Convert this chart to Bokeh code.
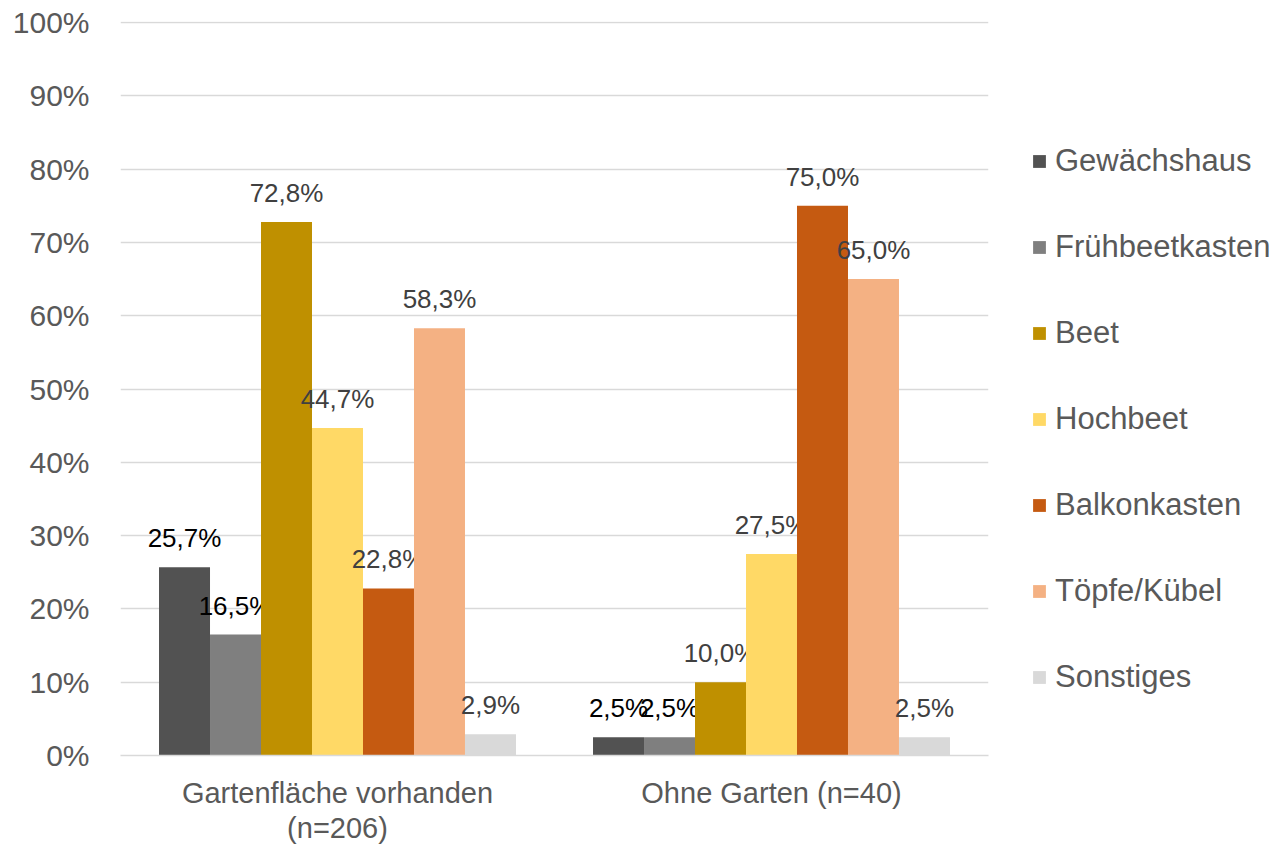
from bokeh.plotting import figure
from bokeh.models import ColumnDataSource, FactorRange, Range1d, Legend, LegendItem, FixedTicker, PrintfTickFormatter
from bokeh.transform import dodge
from bokeh.core.properties import value
from bokeh.embed import file_html
from bokeh.resources import INLINE

categories = ["Gartenfläche vorhanden\n(n=206)", "Ohne Garten (n=40)"]
series = ["Gewächshaus", "Frühbeetkasten", "Beet", "Hochbeet", "Balkonkasten", "Töpfe/Kübel", "Sonstiges"]
colors = ["#525252", "#7f7f7f", "#bf9000", "#ffd966", "#c55a11", "#f4b183", "#d9d9d9"]
label_colors = ["#000000", "#000000", "#404040", "#404040", "#404040", "#404040", "#404040"]
garten = [25.7, 16.5, 72.8, 44.7, 22.8, 58.3, 2.9]
ohne = [2.5, 2.5, 10.0, 27.5, 75.0, 65.0, 2.5]
y_ticks = [0, 10, 20, 30, 40, 50, 60, 70, 80, 90, 100]

FONT = "Liberation Sans"

p = figure(frame_width=868, frame_height=734, x_range=FactorRange(*categories), y_range=Range1d(0, 100.15),
           output_backend="svg", toolbar_location=None,
           min_border_left=120, min_border_right=0, min_border_top=21, min_border_bottom=88)
p.outline_line_color = None
p.background_fill_color = "white"

bw = 0.1175
items = []
for i, name in enumerate(series):
    vals = [garten[i], ohne[i]]
    src = ColumnDataSource(dict(cat=categories, v=vals,
                                lbl=[f"{v:.1f}%".replace(".", ",") for v in vals]))
    off = (i - 3) * bw
    r = p.vbar(x=dodge("cat", off, range=p.x_range), top="v", width=bw, source=src,
               fill_color=colors[i], line_color=None)
    p.text(x=dodge("cat", off, range=p.x_range), y="v", text="lbl", source=src,
           text_align="center", text_baseline="middle", y_offset=-29,
           text_font=value(FONT), text_font_size="26px", text_color=label_colors[i])
    items.append(LegendItem(label=name, renderers=[r]))

legend = Legend(items=items, location=(43, 60), margin=0, padding=10,
                glyph_width=16, glyph_height=16, label_height=30, spacing=50,
                label_standoff=8, label_text_font=FONT, label_text_font_size="31px",
                label_text_color="#595959", border_line_color=None, background_fill_alpha=0)
p.add_layout(legend, "right")

p.yaxis.ticker = FixedTicker(ticks=y_ticks)
p.yaxis.formatter = PrintfTickFormatter(format="%d%%")
p.yaxis.axis_line_color = None
p.yaxis.major_tick_line_color = None
p.yaxis.minor_tick_line_color = None
p.yaxis.major_label_standoff = 25
p.yaxis.major_label_text_font = FONT
p.yaxis.major_label_text_font_size = "30px"
p.yaxis.major_label_text_color = "#595959"

p.xaxis.axis_line_color = "#d9d9d9"
p.xaxis.axis_line_width = 1.5
p.xaxis.major_tick_line_color = None
p.xaxis.minor_tick_line_color = None
p.xaxis.major_label_standoff = 15
p.xaxis.major_label_text_font = FONT
p.xaxis.major_label_text_font_size = "29px"
p.xaxis.major_label_text_line_height = 1.1
p.xaxis.major_label_text_color = "#595959"
p.xaxis.major_label_orientation = "horizontal"

p.xgrid.grid_line_color = None
p.ygrid.grid_line_color = "#d9d9d9"
p.ygrid.grid_line_width = 1.5
p.x_range.range_padding = 0
p.x_range.group_padding = 0

open("out.html", "w").write(file_html(p, INLINE))
